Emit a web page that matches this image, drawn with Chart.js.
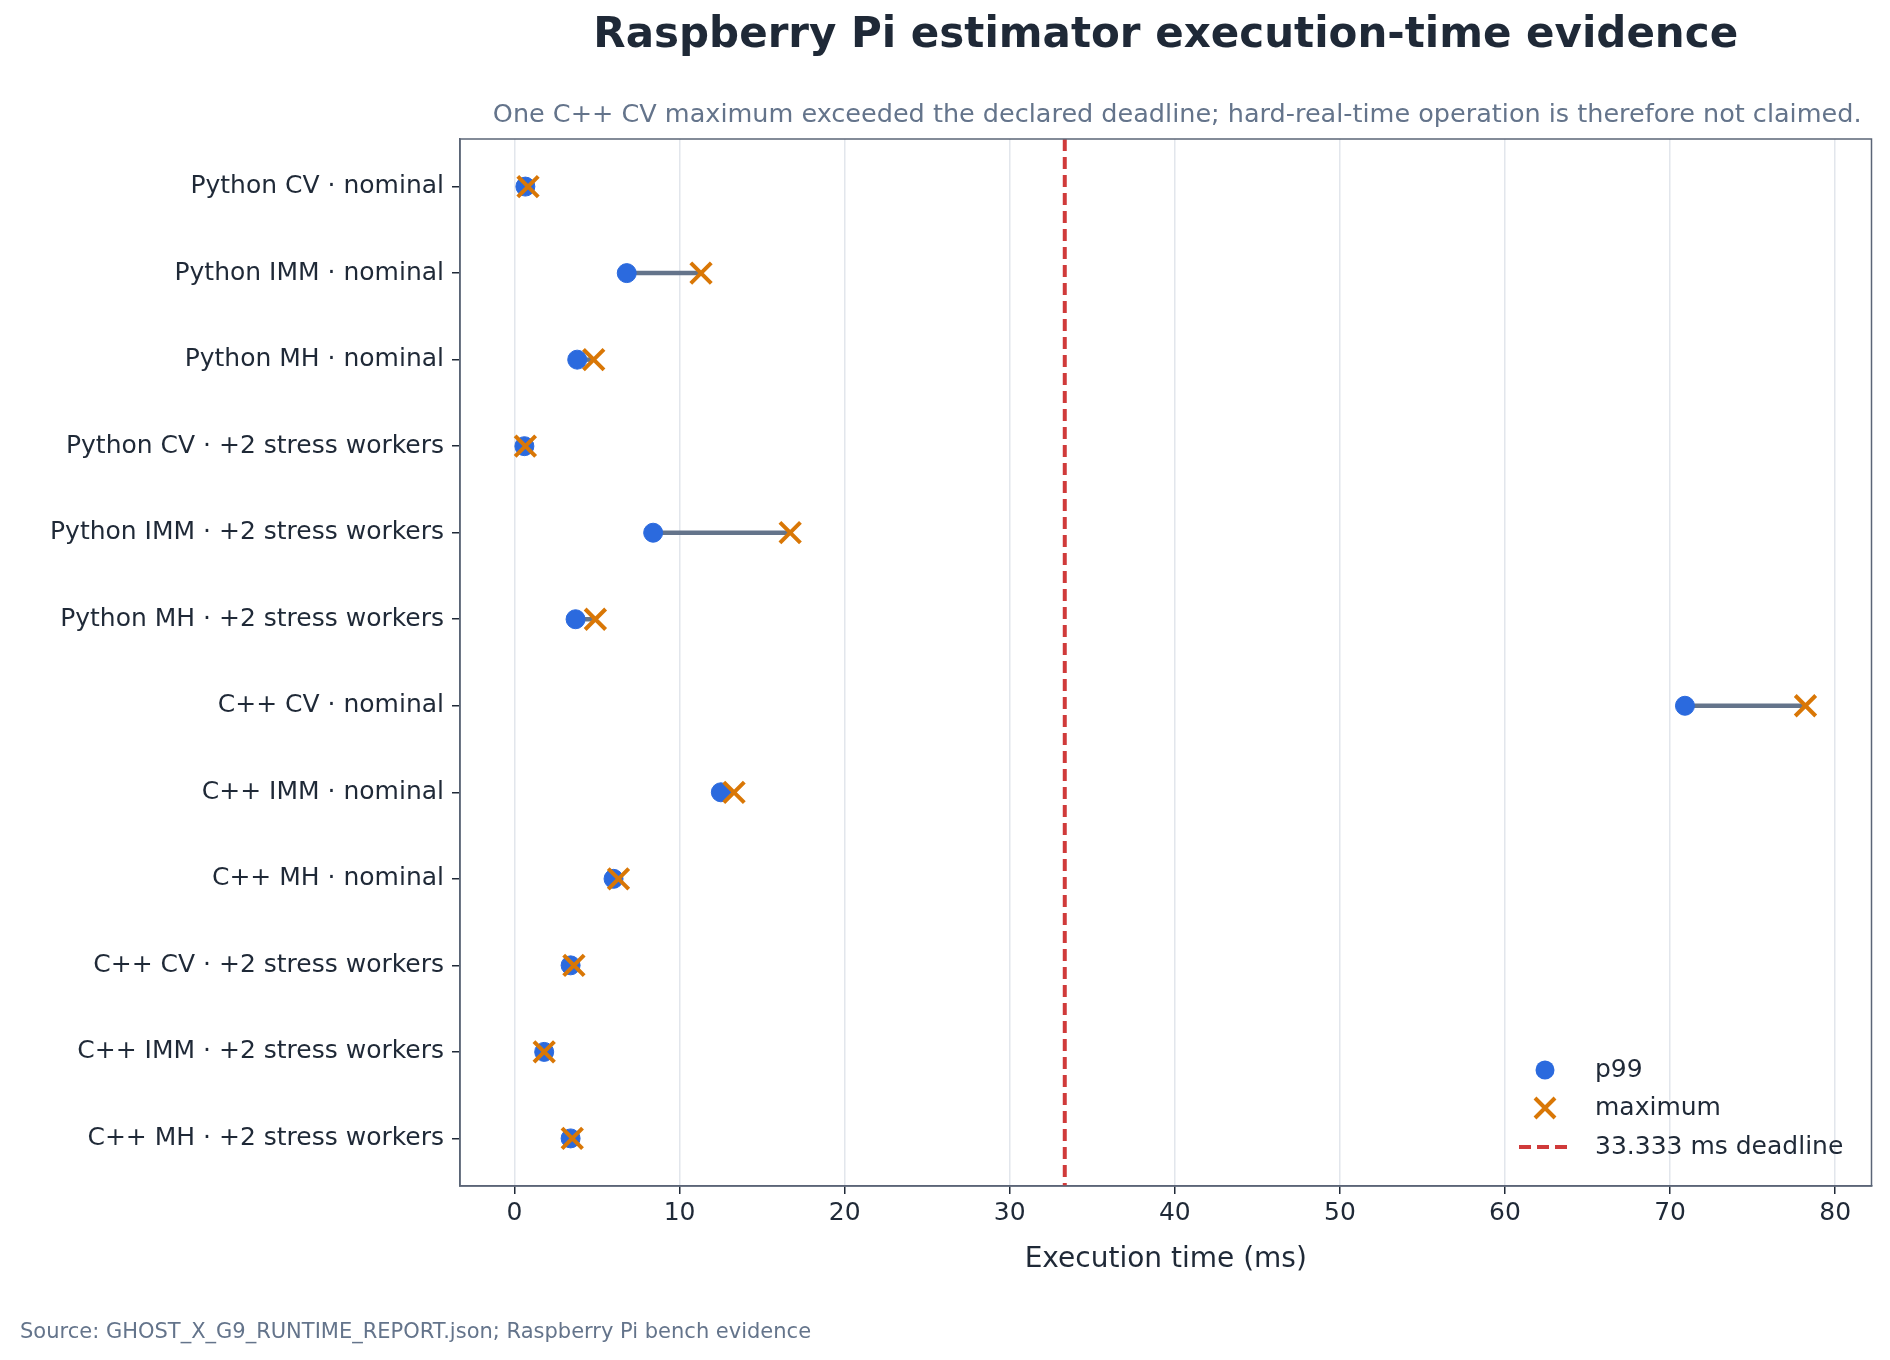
<!DOCTYPE html>
<html>
<head>
<meta charset="utf-8">
<script src="https://cdn.jsdelivr.net/npm/chart.js@4.4.0/dist/chart.umd.min.js"></script>
<style>
  html, body { margin: 0; padding: 0; background: #fff; }
  #wrap { width: 1890px; height: 1360px; }
</style>
</head>
<body>
<div id="wrap"><canvas id="myChart" width="1890" height="1360"></canvas></div>
<script>
'use strict';

const categories = [
  'Python CV · nominal', 'Python IMM · nominal', 'Python MH · nominal',
  'Python CV · +2 stress workers', 'Python IMM · +2 stress workers', 'Python MH · +2 stress workers',
  'C++ CV · nominal', 'C++ IMM · nominal', 'C++ MH · nominal',
  'C++ CV · +2 stress workers', 'C++ IMM · +2 stress workers', 'C++ MH · +2 stress workers'
];
const p99Values = [0.66, 6.8, 3.8, 0.6, 8.4, 3.7, 70.9, 12.5, 6.0, 3.4, 1.8, 3.4];
const maxValues = [0.82, 11.3, 4.8, 0.66, 16.7, 4.9, 78.2, 13.3, 6.3, 3.6, 1.8, 3.5];
const deadline = 33.333;
const xTicks = [0, 10, 20, 30, 40, 50, 60, 70, 80];

const blue = '#2b6ade', orange = '#d97706', red = '#d03a3a', slate = '#64748b';
const ink = '#1f2937', frame = '#5b6577';
const font = 'DejaVu Sans';

const ctx = document.getElementById('myChart').getContext('2d');

// connectors, frame, title, legend and source drawn by hand
const extras = {
  id: 'extras',
  beforeDatasetsDraw(chart) {
    const c = chart.ctx, xs = chart.scales.x, ys = chart.scales.y;
    c.save();
    c.strokeStyle = slate;
    c.lineWidth = 4.5;
    for (let i = 0; i < categories.length; i++) {
      const y = ys.getPixelForValue(i);
      c.beginPath();
      c.moveTo(xs.getPixelForValue(p99Values[i]), y);
      c.lineTo(xs.getPixelForValue(maxValues[i]), y);
      c.stroke();
    }
    c.restore();
  },
  afterDraw(chart) {
    const c = chart.ctx, a = chart.chartArea;
    c.save();
    c.strokeStyle = frame;
    c.lineWidth = 1.5;
    c.strokeRect(a.left, a.top, a.right - a.left, a.bottom - a.top);

    c.fillStyle = ink;
    c.font = 'bold 42px "' + font + '"';
    c.textAlign = 'center';
    c.textBaseline = 'middle';
    c.fillText('Raspberry Pi estimator execution-time evidence', (a.left + a.right) / 2, 36);

    c.fillStyle = slate;
    c.font = '25.5px "' + font + '"';
    c.textAlign = 'right';
    c.fillText('One C++ CV maximum exceeded the declared deadline; hard-real-time operation is therefore not claimed.', a.right - 10, 115);

    c.textAlign = 'left';
    c.font = '21px "' + font + '"';
    c.fillText('Source: GHOST_X_G9_RUNTIME_REPORT.json; Raspberry Pi bench evidence', 20, 1333);

    // legend
    const lx = 1545, ly = [1070, 1108, 1147];
    c.font = '25px "' + font + '"';
    c.fillStyle = ink;
    c.fillText('p99', 1595, ly[0]);
    c.fillText('maximum', 1595, ly[1]);
    c.fillText('33.333 ms deadline', 1595, ly[2]);
    c.fillStyle = blue;
    c.beginPath(); c.arc(lx, ly[0], 9.5, 0, Math.PI * 2); c.fill();
    c.strokeStyle = orange; c.lineWidth = 4;
    c.beginPath();
    c.moveTo(lx - 10, ly[1] - 10); c.lineTo(lx + 10, ly[1] + 10);
    c.moveTo(lx + 10, ly[1] - 10); c.lineTo(lx - 10, ly[1] + 10);
    c.stroke();
    c.strokeStyle = red; c.lineWidth = 4; c.setLineDash([12, 6]);
    c.beginPath(); c.moveTo(lx - 26, ly[2]); c.lineTo(lx + 26, ly[2]); c.stroke();
    c.restore();
  }
};

new Chart(ctx, {
  type: 'scatter',
  data: {
    datasets: [
      {
        label: '33.333 ms deadline',
        type: 'line',
        data: [{ x: deadline, y: -0.55 }, { x: deadline, y: 11.55 }],
        borderColor: red,
        borderWidth: 4,
        borderDash: [12, 6],
        pointRadius: 0,
        order: 3
      },
      {
        label: 'p99',
        data: p99Values.map((v, i) => ({ x: v, y: i })),
        backgroundColor: blue,
        borderColor: blue,
        pointRadius: 9.5,
        order: 2
      },
      {
        label: 'maximum',
        data: maxValues.map((v, i) => ({ x: v, y: i })),
        pointStyle: 'crossRot',
        borderColor: orange,
        borderWidth: 4,
        pointRadius: 14.5,
        order: 1
      }
    ]
  },
  options: {
    responsive: false,
    animation: false,
    layout: { padding: { top: 139, right: 10, bottom: 79, left: 0 } },
    plugins: { legend: { display: false }, tooltip: { enabled: false } },
    scales: {
      x: {
        type: 'linear',
        min: -3.3,
        max: 82.2,
        afterBuildTicks(scale) { scale.ticks = xTicks.map(v => ({ value: v })); },
        ticks: { color: ink, font: { family: font, size: 25 }, padding: 4 },
        grid: { color: '#e2e6ec', lineWidth: 1.5, tickLength: 8, tickColor: ink },
        border: { color: frame, width: 1.5 },
        title: { display: true, text: 'Execution time (ms)', color: ink, font: { family: font, size: 28 }, padding: { top: 4, bottom: 4 } },
        afterFit(scale) { scale.height = 95; }
      },
      y: {
        type: 'linear',
        reverse: true,
        min: -0.55,
        max: 11.55,
        afterBuildTicks(scale) { scale.ticks = categories.map((_, i) => ({ value: i })); },
        ticks: { color: ink, font: { family: font, size: 25 }, padding: 8, callback: v => categories[v] },
        grid: { drawOnChartArea: false, tickLength: 8, tickColor: ink, lineWidth: 1.5 },
        border: { color: frame, width: 1.5 },
        afterFit(scale) { scale.width = 460; }
      }
    }
  },
  plugins: [extras]
});
</script>
</body>
</html>
